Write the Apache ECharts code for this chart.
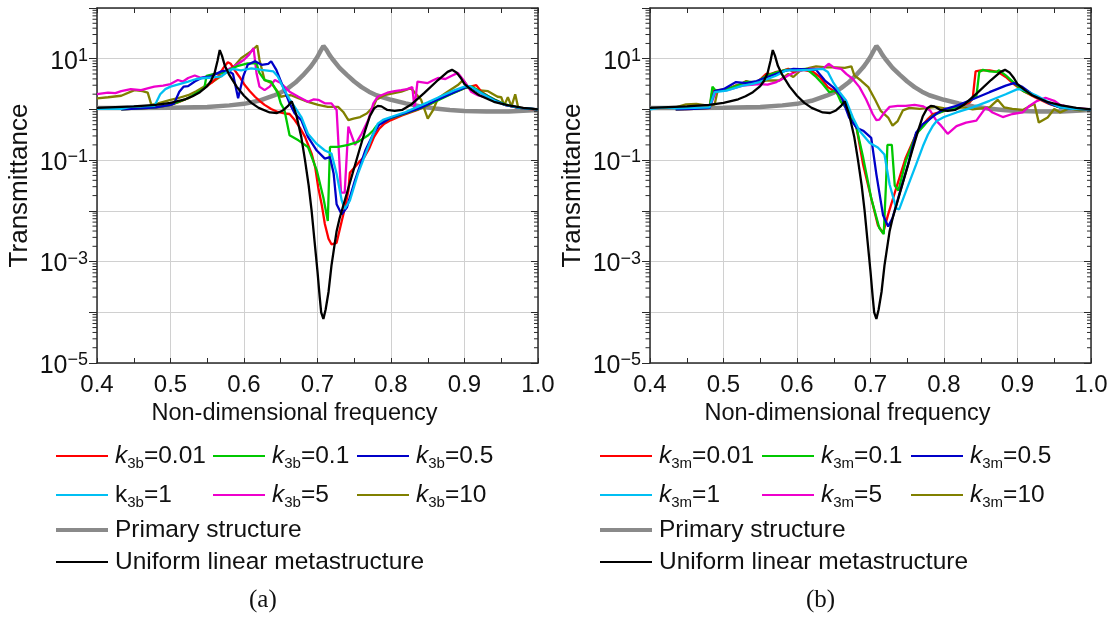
<!DOCTYPE html>
<html>
<head>
<meta charset="utf-8">
<script src="https://cdn.jsdelivr.net/npm/echarts@6/dist/echarts.min.js"></script>
<style>html,body{margin:0;padding:0;background:#fff}#c{width:1117px;height:621px}</style>
</head>
<body>
<div id="c"></div>
<script>
// ---- data: [non-dimensional frequency, log10(transmittance)] ----
const primaryStructure = [[0.40,0.03],[0.45,0.03],[0.50,0.035],[0.55,0.05],[0.58,0.08],[0.60,0.11],[0.62,0.17],[0.64,0.27],[0.65,0.33],[0.66,0.42],[0.67,0.53],[0.68,0.67],[0.69,0.83],[0.695,0.93],[0.70,1.04],[0.704,1.15],[0.708,1.25],[0.712,1.18],[0.716,1.08],[0.72,1.0],[0.73,0.82],[0.74,0.68],[0.75,0.55],[0.76,0.44],[0.77,0.35],[0.78,0.28],[0.80,0.19],[0.82,0.12],[0.84,0.06],[0.86,0.02],[0.88,-0.01],[0.90,-0.03],[0.93,-0.04],[0.96,-0.04],[1.0,-0.01]];
const uniformLinear = [[0.40,0.03],[0.45,0.06],[0.48,0.09],[0.50,0.13],[0.52,0.2],[0.53,0.26],[0.54,0.34],[0.55,0.46],[0.555,0.56],[0.56,0.72],[0.564,0.96],[0.567,1.17],[0.57,1.06],[0.574,0.86],[0.58,0.68],[0.59,0.45],[0.60,0.27],[0.61,0.13],[0.62,0.03],[0.635,-0.06],[0.645,-0.07],[0.653,-0.02],[0.66,0.07],[0.665,0.16],[0.671,-0.1],[0.678,-0.55],[0.683,-1.0],[0.688,-1.5],[0.692,-2.0],[0.696,-2.6],[0.70,-3.2],[0.703,-3.7],[0.705,-4.0],[0.708,-4.13],[0.711,-3.95],[0.715,-3.6],[0.719,-3.08],[0.726,-2.4],[0.73,-2.15],[0.737,-1.8],[0.742,-1.55],[0.749,-1.2],[0.757,-0.8],[0.765,-0.41],[0.771,-0.14],[0.777,0.02],[0.782,0.07],[0.787,0.06],[0.795,-0.01],[0.805,-0.03],[0.815,-0.01],[0.827,0.09],[0.845,0.32],[0.864,0.58],[0.877,0.74],[0.883,0.78],[0.889,0.73],[0.895,0.62],[0.90,0.5],[0.91,0.38],[0.92,0.28],[0.94,0.15],[0.96,0.08],[0.98,0.03],[1.0,0.0]];

const redA = [[0.433,0.0],[0.46,0.02],[0.48,0.04],[0.50,0.09],[0.51,0.14],[0.524,0.22],[0.535,0.31],[0.546,0.42],[0.556,0.53],[0.565,0.65],[0.572,0.82],[0.578,0.93],[0.582,0.9],[0.587,0.78],[0.594,0.64],[0.601,0.48],[0.608,0.36],[0.615,0.25],[0.622,0.16],[0.628,0.09],[0.637,0.01],[0.646,-0.05],[0.655,-0.08],[0.662,-0.09],[0.669,-0.21],[0.676,-0.36],[0.683,-0.54],[0.692,-0.87],[0.697,-1.15],[0.701,-1.54],[0.706,-1.9],[0.71,-2.26],[0.715,-2.55],[0.719,-2.66],[0.726,-2.63],[0.733,-2.2],[0.738,-1.9],[0.742,-1.6],[0.744,-1.25],[0.75,-1.15],[0.757,-1.03],[0.764,-0.93],[0.77,-0.78],[0.777,-0.54],[0.784,-0.38],[0.791,-0.28],[0.80,-0.21],[0.815,-0.12],[0.836,-0.01],[0.85,0.08],[0.868,0.22],[0.885,0.33],[0.90,0.42],[0.916,0.48],[0.923,0.35],[0.932,0.26],[0.941,0.19],[0.955,0.09],[0.97,0.04],[0.985,0.01],[1.0,0.0]];
const greenA = [[0.433,0.0],[0.46,0.02],[0.48,0.04],[0.50,0.09],[0.524,0.22],[0.546,0.42],[0.549,0.66],[0.56,0.7],[0.57,0.72],[0.58,0.78],[0.592,0.86],[0.605,0.91],[0.617,0.91],[0.621,0.72],[0.628,0.58],[0.637,0.55],[0.646,0.32],[0.65,0.12],[0.655,-0.01],[0.662,-0.51],[0.674,-0.61],[0.687,-0.74],[0.699,-1.2],[0.708,-1.74],[0.714,-2.2],[0.717,-0.74],[0.728,-0.74],[0.742,-0.7],[0.755,-0.64],[0.769,-0.51],[0.776,-0.41],[0.78,-0.33],[0.79,-0.24],[0.80,-0.17],[0.82,-0.08],[0.84,0.02],[0.86,0.15],[0.88,0.29],[0.90,0.42],[0.91,0.45],[0.925,0.32],[0.94,0.2],[0.955,0.1],[0.975,0.03],[1.0,0.0]];
const blueA = [[0.433,0.0],[0.46,0.02],[0.48,0.04],[0.50,0.09],[0.505,0.12],[0.512,0.35],[0.518,0.45],[0.524,0.46],[0.533,0.55],[0.542,0.62],[0.555,0.65],[0.569,0.75],[0.578,0.77],[0.585,0.7],[0.592,0.22],[0.599,0.65],[0.605,0.88],[0.615,0.95],[0.624,0.88],[0.633,0.9],[0.637,0.95],[0.644,0.78],[0.653,0.45],[0.662,0.12],[0.669,-0.08],[0.678,-0.21],[0.687,-0.54],[0.699,-0.81],[0.71,-0.97],[0.717,-0.94],[0.722,-1.27],[0.726,-1.87],[0.733,-2.07],[0.74,-1.93],[0.751,-1.4],[0.765,-0.81],[0.776,-0.48],[0.784,-0.3],[0.80,-0.16],[0.82,-0.07],[0.84,0.03],[0.86,0.17],[0.88,0.3],[0.90,0.43],[0.907,0.45],[0.923,0.32],[0.941,0.18],[0.955,0.09],[0.975,0.03],[1.0,0.0]];
const cyanA = [[0.40,0.01],[0.433,0.01],[0.446,0.05],[0.46,0.06],[0.478,0.07],[0.481,0.15],[0.486,0.3],[0.493,0.4],[0.50,0.45],[0.512,0.5],[0.524,0.55],[0.535,0.6],[0.546,0.62],[0.558,0.63],[0.569,0.65],[0.578,0.75],[0.585,0.8],[0.596,0.77],[0.61,0.81],[0.624,0.78],[0.64,0.75],[0.646,0.65],[0.655,0.38],[0.662,0.2],[0.669,0.05],[0.678,-0.15],[0.687,-0.48],[0.699,-0.68],[0.71,-0.81],[0.719,-0.87],[0.726,-1.27],[0.733,-1.8],[0.737,-1.96],[0.744,-1.8],[0.755,-1.27],[0.767,-0.81],[0.774,-0.55],[0.782,-0.28],[0.79,-0.2],[0.80,-0.15],[0.82,-0.05],[0.836,0.05],[0.85,0.14],[0.868,0.26],[0.885,0.37],[0.90,0.45],[0.907,0.46],[0.923,0.32],[0.941,0.17],[0.955,0.09],[0.975,0.03],[1.0,0.0]];
const magentaA = [[0.40,0.3],[0.415,0.33],[0.425,0.32],[0.433,0.36],[0.446,0.4],[0.46,0.38],[0.47,0.42],[0.478,0.45],[0.49,0.47],[0.50,0.5],[0.51,0.58],[0.517,0.55],[0.524,0.62],[0.533,0.67],[0.542,0.62],[0.55,0.65],[0.56,0.7],[0.57,0.72],[0.58,0.8],[0.59,0.88],[0.60,0.98],[0.607,1.08],[0.613,1.21],[0.617,0.72],[0.621,0.45],[0.628,0.38],[0.635,0.45],[0.642,0.58],[0.65,0.52],[0.662,0.35],[0.674,0.25],[0.687,0.15],[0.695,0.2],[0.701,0.19],[0.71,0.12],[0.719,0.12],[0.726,-0.01],[0.728,-0.54],[0.732,-1.64],[0.737,-1.64],[0.742,-0.34],[0.751,-0.7],[0.76,-0.48],[0.769,-0.21],[0.776,0.12],[0.782,0.25],[0.795,0.33],[0.805,0.36],[0.814,0.38],[0.822,0.4],[0.829,0.44],[0.832,0.02],[0.836,0.55],[0.85,0.52],[0.858,0.58],[0.864,0.62],[0.874,0.6],[0.882,0.66],[0.891,0.72],[0.90,0.55],[0.909,0.35],[0.918,0.28],[0.941,0.19],[0.955,0.09],[0.975,0.03],[1.0,0.0]];
const oliveA = [[0.40,0.22],[0.415,0.24],[0.433,0.27],[0.451,0.38],[0.462,0.36],[0.469,0.33],[0.474,0.09],[0.483,0.12],[0.50,0.19],[0.512,0.23],[0.524,0.28],[0.535,0.36],[0.546,0.45],[0.556,0.53],[0.565,0.62],[0.575,0.72],[0.585,0.82],[0.596,1.01],[0.61,1.15],[0.618,1.26],[0.621,0.98],[0.628,0.58],[0.637,0.52],[0.646,0.35],[0.65,0.25],[0.657,0.27],[0.664,0.28],[0.674,0.22],[0.687,0.15],[0.701,0.09],[0.714,0.05],[0.728,0.05],[0.735,-0.05],[0.742,-0.21],[0.749,-0.18],[0.758,-0.15],[0.767,-0.08],[0.776,0.05],[0.78,0.19],[0.791,0.28],[0.814,0.35],[0.827,0.42],[0.841,0.19],[0.85,-0.18],[0.857,-0.02],[0.864,0.22],[0.877,0.35],[0.891,0.48],[0.898,0.58],[0.905,0.45],[0.918,0.38],[0.932,0.36],[0.945,0.25],[0.95,0.24],[0.954,0.08],[0.959,0.24],[0.964,0.06],[0.969,0.3],[0.973,0.04],[0.98,0.02],[1.0,0.0]];

const redB = [[0.435,0.0],[0.46,0.01],[0.481,0.03],[0.485,0.37],[0.499,0.39],[0.51,0.42],[0.517,0.47],[0.524,0.5],[0.531,0.56],[0.538,0.52],[0.545,0.53],[0.552,0.62],[0.558,0.7],[0.565,0.7],[0.572,0.74],[0.58,0.76],[0.588,0.8],[0.595,0.74],[0.602,0.78],[0.608,0.78],[0.615,0.76],[0.622,0.74],[0.631,0.64],[0.642,0.44],[0.653,0.34],[0.662,0.2],[0.671,-0.06],[0.681,-0.36],[0.69,-1.09],[0.701,-1.75],[0.71,-2.28],[0.717,-2.44],[0.724,-2.07],[0.735,-1.55],[0.748,-0.95],[0.762,-0.49],[0.772,-0.29],[0.778,-0.19],[0.785,-0.09],[0.80,-0.03],[0.817,0.04],[0.835,0.14],[0.839,0.21],[0.843,0.75],[0.85,0.77],[0.862,0.77],[0.873,0.74],[0.884,0.64],[0.895,0.5],[0.907,0.37],[0.925,0.23],[0.943,0.11],[0.958,0.04],[0.975,0.01],[1.0,0.0]];
const greenB = [[0.435,0.0],[0.46,0.01],[0.481,0.03],[0.485,0.45],[0.49,0.36],[0.495,0.38],[0.505,0.4],[0.517,0.46],[0.531,0.55],[0.545,0.54],[0.558,0.66],[0.572,0.73],[0.585,0.78],[0.60,0.79],[0.613,0.8],[0.626,0.64],[0.635,0.5],[0.644,0.34],[0.653,0.37],[0.66,0.14],[0.671,-0.03],[0.681,-0.36],[0.69,-0.95],[0.701,-1.75],[0.712,-2.34],[0.718,-2.46],[0.721,-1.5],[0.723,-0.7],[0.729,-0.7],[0.733,-1.5],[0.738,-1.6],[0.748,-1.02],[0.762,-0.49],[0.772,-0.33],[0.778,-0.23],[0.785,-0.12],[0.80,-0.03],[0.817,0.04],[0.835,0.17],[0.844,0.25],[0.848,0.74],[0.853,0.78],[0.862,0.75],[0.871,0.74],[0.875,0.77],[0.884,0.67],[0.895,0.53],[0.907,0.37],[0.925,0.25],[0.943,0.12],[0.958,0.04],[0.975,0.01],[1.0,0.0]];
const blueB = [[0.435,0.0],[0.46,0.01],[0.481,0.03],[0.488,0.36],[0.50,0.4],[0.517,0.54],[0.531,0.52],[0.545,0.56],[0.558,0.63],[0.572,0.7],[0.581,0.75],[0.595,0.8],[0.613,0.79],[0.626,0.78],[0.638,0.57],[0.649,0.44],[0.66,0.27],[0.671,-0.16],[0.681,-0.36],[0.69,-0.42],[0.701,-0.56],[0.708,-1.28],[0.717,-2.08],[0.724,-2.31],[0.73,-2.14],[0.739,-1.68],[0.751,-1.09],[0.762,-0.46],[0.771,-0.29],[0.778,-0.22],[0.79,-0.08],[0.80,0.0],[0.817,0.07],[0.839,0.2],[0.862,0.34],[0.884,0.47],[0.895,0.52],[0.907,0.44],[0.925,0.25],[0.943,0.12],[0.958,0.04],[0.975,0.01],[1.0,0.0]];
const cyanB = [[0.40,0.0],[0.417,0.04],[0.435,0.02],[0.46,0.03],[0.481,0.04],[0.488,0.34],[0.504,0.37],[0.515,0.42],[0.526,0.47],[0.538,0.5],[0.549,0.54],[0.56,0.6],[0.572,0.67],[0.585,0.77],[0.599,0.77],[0.617,0.78],[0.635,0.8],[0.642,0.74],[0.649,0.54],[0.658,0.34],[0.667,0.17],[0.676,-0.16],[0.685,-0.42],[0.699,-0.66],[0.71,-0.75],[0.719,-0.89],[0.726,-1.48],[0.735,-1.95],[0.739,-1.97],[0.748,-1.62],[0.762,-1.09],[0.772,-0.7],[0.778,-0.5],[0.785,-0.32],[0.79,-0.23],[0.80,-0.15],[0.817,-0.06],[0.839,0.04],[0.862,0.17],[0.884,0.3],[0.90,0.4],[0.907,0.39],[0.925,0.28],[0.943,0.14],[0.958,0.04],[0.975,0.01],[1.0,0.0]];
const magentaB = [[0.435,0.0],[0.46,0.01],[0.481,0.03],[0.49,0.36],[0.505,0.38],[0.526,0.47],[0.549,0.5],[0.56,0.49],[0.572,0.54],[0.58,0.6],[0.588,0.67],[0.599,0.75],[0.617,0.8],[0.635,0.8],[0.643,0.9],[0.651,0.82],[0.66,0.8],[0.667,0.7],[0.676,0.6],[0.685,0.44],[0.694,0.2],[0.703,-0.09],[0.708,-0.21],[0.712,-0.2],[0.719,-0.06],[0.726,0.05],[0.737,0.07],[0.748,0.07],[0.76,0.09],[0.772,0.06],[0.781,-0.02],[0.79,-0.23],[0.796,-0.32],[0.805,-0.48],[0.817,-0.33],[0.83,-0.26],[0.844,-0.22],[0.857,0.04],[0.866,-0.06],[0.88,-0.15],[0.893,-0.09],[0.907,-0.06],[0.916,0.07],[0.927,0.17],[0.938,0.23],[0.95,0.17],[0.958,0.09],[0.975,0.03],[1.0,0.0]];
const oliveB = [[0.417,0.03],[0.435,0.04],[0.449,0.1],[0.463,0.11],[0.481,0.07],[0.488,0.1],[0.492,0.37],[0.505,0.4],[0.517,0.47],[0.54,0.5],[0.558,0.57],[0.576,0.57],[0.588,0.7],[0.595,0.64],[0.604,0.76],[0.617,0.82],[0.626,0.85],[0.64,0.83],[0.653,0.83],[0.665,0.82],[0.674,0.85],[0.678,0.67],[0.687,0.57],[0.697,0.44],[0.706,0.2],[0.714,-0.03],[0.724,-0.16],[0.73,-0.32],[0.737,-0.23],[0.744,-0.02],[0.753,0.03],[0.767,0.01],[0.778,0.03],[0.79,0.05],[0.808,0.0],[0.826,0.04],[0.839,0.0],[0.862,0.04],[0.873,0.19],[0.882,0.04],[0.893,0.01],[0.907,-0.01],[0.923,0.11],[0.929,-0.26],[0.941,-0.16],[0.95,0.01],[0.958,-0.06],[0.97,0.02],[0.985,-0.02],[1.0,0.0]];

const kValues = ['0.01', '0.1', '0.5', '1', '5', '10'];
const yTickExponents = [-5, -3, -1, 1];
const xTicks = [0.4, 0.5, 0.6, 0.7, 0.8, 0.9, 1.0];
const captions = ['(a)', '(b)'];
const xAxisTitle = 'Non-dimensional frequency';
const yAxisTitle = 'Transmittance';
const primaryName = 'Primary structure';
const uniformName = 'Uniform linear metastructure';

// ---- styling ----
const FONT = '"Liberation Sans", Arial, sans-serif';
const colors = ['#ff0000', '#00c800', '#0000c8', '#00bff3', '#ee00cc', '#808000'];
const GREY = '#8a8a8a';
const INK = '#111';
const AXIS = '#2a2a2a';
const LEG_FS = 24.5;

const toT = arr => arr.map(p => [p[0], Math.pow(10, p[1])]);

// log minor tick positions (2..9 x each decade) for the y axes
const minorTickValues = [];
for (let e = -5; e < 2; e++) for (let m = 2; m <= 9; m++) minorTickValues.push([0.4, m * Math.pow(10, e)]);

const panels = [
  { sub: '3b', left: 97, data: [redA, greenA, blueA, cyanA, magentaA, oliveA], italic: [true, true, true, false, true, true],
    legendCols: [56, 213, 357], captionX: 249 },
  { sub: '3m', left: 650, data: [redB, greenB, blueB, cyanB, magentaB, oliveB], italic: [true, true, true, true, true, true],
    legendCols: [600, 762, 911], captionX: 806 }
];

const PW = 441, PT = 8, PH = 355;
const legendRows = [441, 480, 515, 547];

const grid = [], xAxis = [], yAxis = [], series = [], legend = [], title = [];
const labelMap = {};

panels.forEach((p, pi) => {
  grid.push({ left: p.left, top: PT, width: PW, height: PH, containLabel: false });
  const axisLine = { show: true, lineStyle: { color: AXIS, width: 1.5 } };
  xAxis.push({
    gridIndex: pi, type: 'value', min: 0.4, max: 1.0, interval: 0.1, position: 'bottom',
    axisLine, axisTick: { show: true, inside: true, length: 5, lineStyle: { color: AXIS } },
    minorTick: { show: true, splitNumber: 2, length: 5, lineStyle: { color: AXIS } },
    axisLabel: { fontFamily: FONT, fontSize: 24, color: INK, margin: 10,
      formatter: v => { const m = xTicks.find(t => Math.abs(t - v) < 1e-6); return m === undefined ? '' : m.toFixed(1); } },
    splitLine: { show: true, lineStyle: { color: '#d0d0d0', width: 1 } },
    name: xAxisTitle, nameLocation: 'middle', nameGap: 35,
    nameTextStyle: { fontFamily: FONT, fontSize: 23.5, color: INK, padding: [0, 46, 0, 0] }
  });
  xAxis.push({
    gridIndex: pi, type: 'value', min: 0.4, max: 1.0, interval: 0.1, position: 'top',
    axisLine, axisTick: { show: true, inside: true, length: 5, lineStyle: { color: AXIS } },
    minorTick: { show: true, splitNumber: 2, length: 5, lineStyle: { color: AXIS } },
    axisLabel: { show: false }, splitLine: { show: false }
  });
  yAxis.push({
    gridIndex: pi, type: 'log', logBase: 10, min: 1e-5, max: 100, position: 'left',
    axisLine, axisTick: { show: true, inside: false, length: 8, lineStyle: { color: AXIS } },
    axisLabel: {
      fontFamily: FONT, color: INK, margin: 9, padding: [6, 0, 0, 0],
      formatter: v => {
        const e = Math.round(Math.log10(v));
        if (yTickExponents.indexOf(e) < 0) return '';
        return '{b|10}{s|' + String(e).replace('-', '\u2212') + '}';
      },
      rich: {
        b: { fontFamily: FONT, fontSize: 25, color: INK, lineHeight: 30 },
        s: { fontFamily: FONT, fontSize: 18, color: INK, lineHeight: 18, verticalAlign: 'top' }
      }
    },
    splitLine: { show: true, lineStyle: { color: '#d0d0d0', width: 1 } },
    name: yAxisTitle, nameLocation: 'middle', nameGap: 64, nameRotate: 90,
    nameTextStyle: { fontFamily: FONT, fontSize: 26, color: INK }
  });
  yAxis.push({
    gridIndex: pi, type: 'log', logBase: 10, min: 1e-5, max: 100, position: 'right',
    axisLine, axisTick: { show: true, inside: true, length: 7, lineStyle: { color: AXIS } },
    axisLabel: { show: false }, splitLine: { show: false }
  });

  const xi = pi * 2, yi = pi * 2;
  const names = kValues.map(k => 'k' + p.sub + '=' + k);
  names.forEach((n, i) => {
    labelMap[n] = '{' + (p.italic[i] ? 'i' : 'n') + '|k}{s|' + p.sub + '}{n|=' + kValues[i] + '}';
  });
  series.push({ name: primaryName, type: 'line', xAxisIndex: xi, yAxisIndex: yi, data: toT(primaryStructure),
    symbol: 'none', lineStyle: { color: GREY, width: 4.5 }, itemStyle: { color: GREY }, z: 2, animation: false });
  const order = [5, 4, 0, 1, 2, 3];
  order.forEach(i => {
    series.push({ name: names[i], type: 'line', xAxisIndex: xi, yAxisIndex: yi, data: toT(p.data[i]),
      symbol: 'none', lineStyle: { color: colors[i], width: 2.3 }, itemStyle: { color: colors[i] }, z: 3, animation: false });
  });
  series.push({ name: uniformName, type: 'line', xAxisIndex: xi, yAxisIndex: yi, data: toT(uniformLinear),
    symbol: 'none', lineStyle: { color: '#000', width: 2.3 }, itemStyle: { color: '#000' }, z: 4, animation: false });

  // minor ticks of the log axes (left: outward, right: inward), placed through the axis scales
  series.push({
    type: 'custom', xAxisIndex: xi, yAxisIndex: yi, data: minorTickValues, silent: true, z: 5, clip: false,
    renderItem: (params, api) => {
      const pt = api.coord([api.value(0), api.value(1)]);
      const xr = p.left + PW;
      return { type: 'group', children: [
        { type: 'line', shape: { x1: pt[0] - 4.5, y1: pt[1], x2: pt[0], y2: pt[1] }, style: { stroke: AXIS, lineWidth: 1 } },
        { type: 'line', shape: { x1: xr - 4, y1: pt[1], x2: xr, y2: pt[1] }, style: { stroke: AXIS, lineWidth: 1 } }
      ] };
    }
  });

  const legendItems = [
    [names[0], 0, 0, 2], [names[1], 0, 1, 2], [names[2], 0, 2, 2],
    [names[3], 1, 0, 2], [names[4], 1, 1, 2], [names[5], 1, 2, 2],
    [primaryName, 2, 0, 4], [uniformName, 3, 0, 2]
  ];
  legendItems.forEach(([n, r, c, lh]) => {
    legend.push({
      data: [n], left: p.legendCols[c], top: legendRows[r], padding: 0,
      icon: 'rect', itemWidth: 52, itemHeight: lh, selectedMode: false,
      formatter: name => labelMap[name] || ('{n|' + name + '}'),
      textStyle: {
        fontFamily: FONT, fontSize: LEG_FS, color: INK, lineHeight: 30, padding: [0, 0, 0, 2],
        rich: {
          i: { fontFamily: FONT, fontSize: LEG_FS, fontStyle: 'italic', color: INK, lineHeight: 30 },
          n: { fontFamily: FONT, fontSize: LEG_FS, color: INK, lineHeight: 30 },
          s: { fontFamily: FONT, fontSize: 15, color: INK, lineHeight: 15, verticalAlign: 'bottom' }
        }
      }
    });
  });

  title.push({ text: captions[pi], left: p.captionX, top: 588, padding: 0,
    textStyle: { fontFamily: '"Liberation Serif", "Times New Roman", serif', fontSize: 25, fontWeight: 'normal', color: INK } });
});

const chart = echarts.init(document.getElementById('c'), null, { renderer: 'canvas' });
chart.setOption({ animation: false, backgroundColor: '#fff', title, grid, xAxis, yAxis, legend, series });
</script>
</body>
</html>
